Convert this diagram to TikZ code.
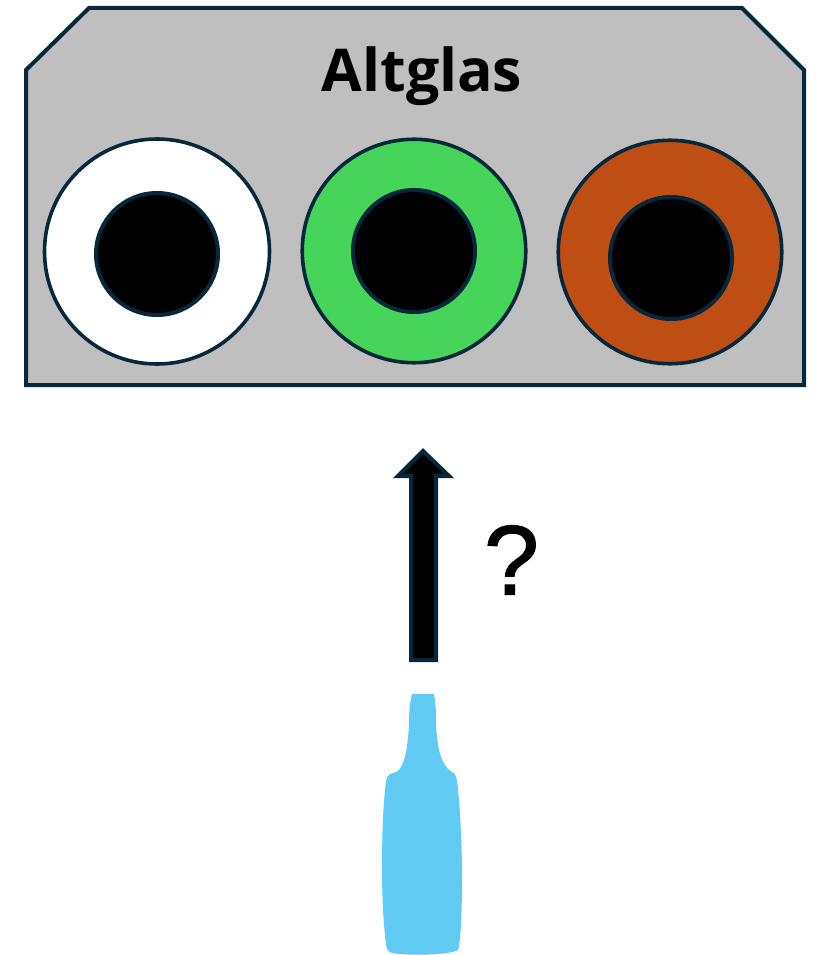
\documentclass[tikz,border=0pt]{standalone}
\usepackage{fontspec}
\setmainfont{Liberation Sans}
\newfontfamily\titlefont{Open Sans}
\newfontfamily\queryfont[RawFeature={embolden=1.2}]{Liberation Sans}
\definecolor{edgeblue}{HTML}{07273A}
\definecolor{panelgrey}{HTML}{BFBFBF}
\definecolor{ringgreen}{HTML}{47D45A}
\definecolor{ringorange}{HTML}{BF4E14}
\definecolor{bottleblue}{HTML}{61CBF4}
\tikzset{
    ring/.style={circle,draw=edgeblue,line width=3.6pt,minimum size=223.5pt,inner sep=0pt},
    core/.style={circle,draw=edgeblue,fill=black,line width=4pt,minimum size=122pt,inner sep=0pt}
}

\begin{document}
\begin{tikzpicture}[x=1pt,y=-1pt]
            \useasboundingbox (0,0) rectangle (818,955);
            \draw[edgeblue,fill=panelgrey,line width=4pt,line join=miter]
            (26,70) -- (89,8) -- (742,8) -- (804,70) -- (804,385) -- (26,385) -- cycle;
            \node[font=\titlefont\bfseries\fontsize{59}{63}\selectfont] (title) at (422,76) {Altglas};
            \node[ring,fill=white,minimum size=225pt] (ringa) at (157,251.5) {};
            \node[ring,fill=ringgreen] (ringb) at (414,251) {};
            \node[ring,fill=ringorange] (ringc) at (670,252) {};
            \node[core] (corea) at (157,254) {};
            \node[core] (coreb) at (414,251) {};
            \node[core] (corec) at (671,258) {};
            \draw[edgeblue,fill=black,line width=4pt,line join=miter]
            (411,660) -- (411,476) -- (398,476) -- (423,451) -- (449,476) -- (436,476) -- (436,660) -- cycle;
            \node[font=\queryfont\fontsize{99}{101}\selectfont] (query) at (511.5,560) {?};
            \fill[bottleblue]
            (412,694) -- (434,694)
            .. controls (436,705) and (436,715) .. (436,723)
            .. controls (437,745) and (440,765) .. (452,772)
            .. controls (455,773) and (457,776) .. (458,790)
            .. controls (462,830) and (463,880) .. (461,925)
            .. controls (460,940) and (459,948) .. (458,950)
            .. controls (450,955) and (410,956) .. (392,953)
            .. controls (387,952) and (386,948) .. (385,935)
            .. controls (381,900) and (381,830) .. (385,790)
            .. controls (386,776) and (388,774) .. (393,773)
            .. controls (405,772) and (408,745) .. (409,723)
            .. controls (409,712) and (410,702) .. (412,694) -- cycle;
        \end{tikzpicture}
\end{document}
